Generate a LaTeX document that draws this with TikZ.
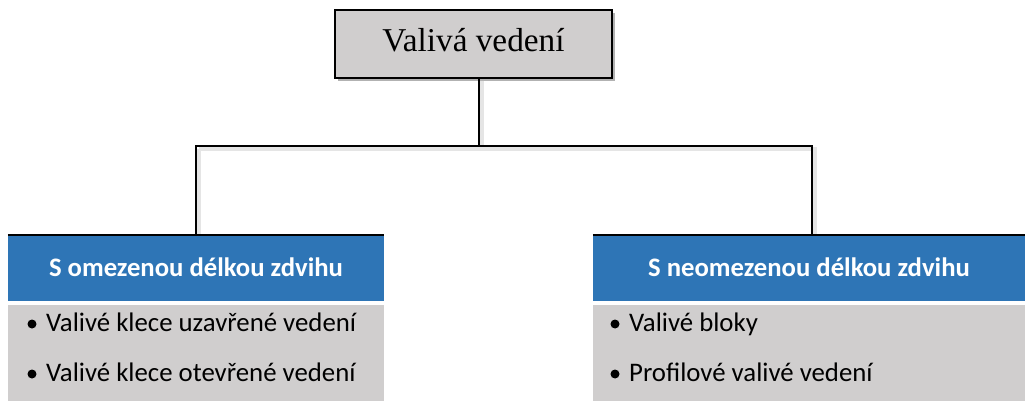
\documentclass[tikz,border=0pt]{standalone}
\usepackage{fontspec}
\setmainfont{Liberation Serif}
\newfontfamily\carl{Carlito}
\usetikzlibrary{shadows,calc}
\definecolor{hblue}{RGB}{46,117,182}
\definecolor{lgray}{RGB}{208,206,206}
\tikzset{
  titlebox/.style={draw=black, line width=2pt, fill=lgray, minimum width=277pt, minimum height=68pt,
     inner sep=0pt, text height=22pt, text depth=6.6pt, font=\fontsize{33.3}{38}\selectfont,
     drop shadow={shadow xshift=3pt, shadow yshift=-3pt, opacity=0.3, fill=black}},
  headbox/.style={fill=hblue, text=white, minimum height=66pt, inner sep=0pt,
     text height=17pt, text depth=0pt, font=\carl\bfseries\fontsize{26.7}{30}\selectfont},
  listbox/.style={fill=lgray, minimum height=96pt, inner sep=0pt},
  item/.style={anchor=base west, inner sep=0pt, font=\carl\fontsize{26.8}{30}\selectfont},
  bul/.style={circle, fill=black, minimum size=9pt, inner sep=0pt},
  conn/.style={draw=black, line width=1.8pt},
  connshadow/.style={draw=black!10, line width=4pt},
  topline/.style={draw=black, line width=2.2pt}
}
\begin{document}
\begin{tikzpicture}[x=1pt,y=-1pt]
\useasboundingbox (0,0) rectangle (1025,401);
% connector coordinates
\coordinate (j) at (479,146);
\coordinate (cl) at (196,146);
\coordinate (cr) at (812,146);
% shadows of connectors
\draw[connshadow] ($(479,78)+(3,3)$) -- ($(j)+(3,3)$);
\draw[connshadow] ($(cl)+(3,3)$) -- ($(cr)+(3,3)$) -- ($(812,234)+(3,0)$);
\draw[connshadow] ($(cl)+(3,3)$) -- ($(196,234)+(3,0)$);
% title
\node[titlebox] (title) at (473.5,44) {Valivá vedení};
% headers
\node[headbox, minimum width=376pt] (hl) at (196,268) {S omezenou délkou zdvihu};
\node[headbox, minimum width=432pt] (hr) at (809,268) {S neomezenou délkou zdvihu};
\draw[topline] (hl.north west) -- (hl.north east);
\draw[topline] (hr.north west) -- (hr.north east);
% list boxes
\node[listbox, minimum width=376pt, anchor=north] (gl) at (196,305) {};
\node[listbox, minimum width=432pt, anchor=north] (gr) at (809,305) {};
% items left
\node[bul] (bl1) at (32,324) {};
\node[item] (l1) at (46,331.7) {Valivé klece uzavřené vedení};
\node[bul] (bl2) at (32,374) {};
\node[item] (l2) at (46,381.7) {Valivé klece otevřené vedení};
% items right
\node[bul] (br1) at (615,324) {};
\node[item] (r1) at (629,331.7) {Valivé bloky};
\node[bul] (br2) at (615,374) {};
\node[item] (r2) at (629,381.7) {Profilové valivé vedení};
% connectors
\draw[conn] (title.south -| j) -- (j);
\draw[conn] (hl.north -| cl) -- (cl) -- (cr) -- (hr.north -| cr);
\end{tikzpicture}
\end{document}
